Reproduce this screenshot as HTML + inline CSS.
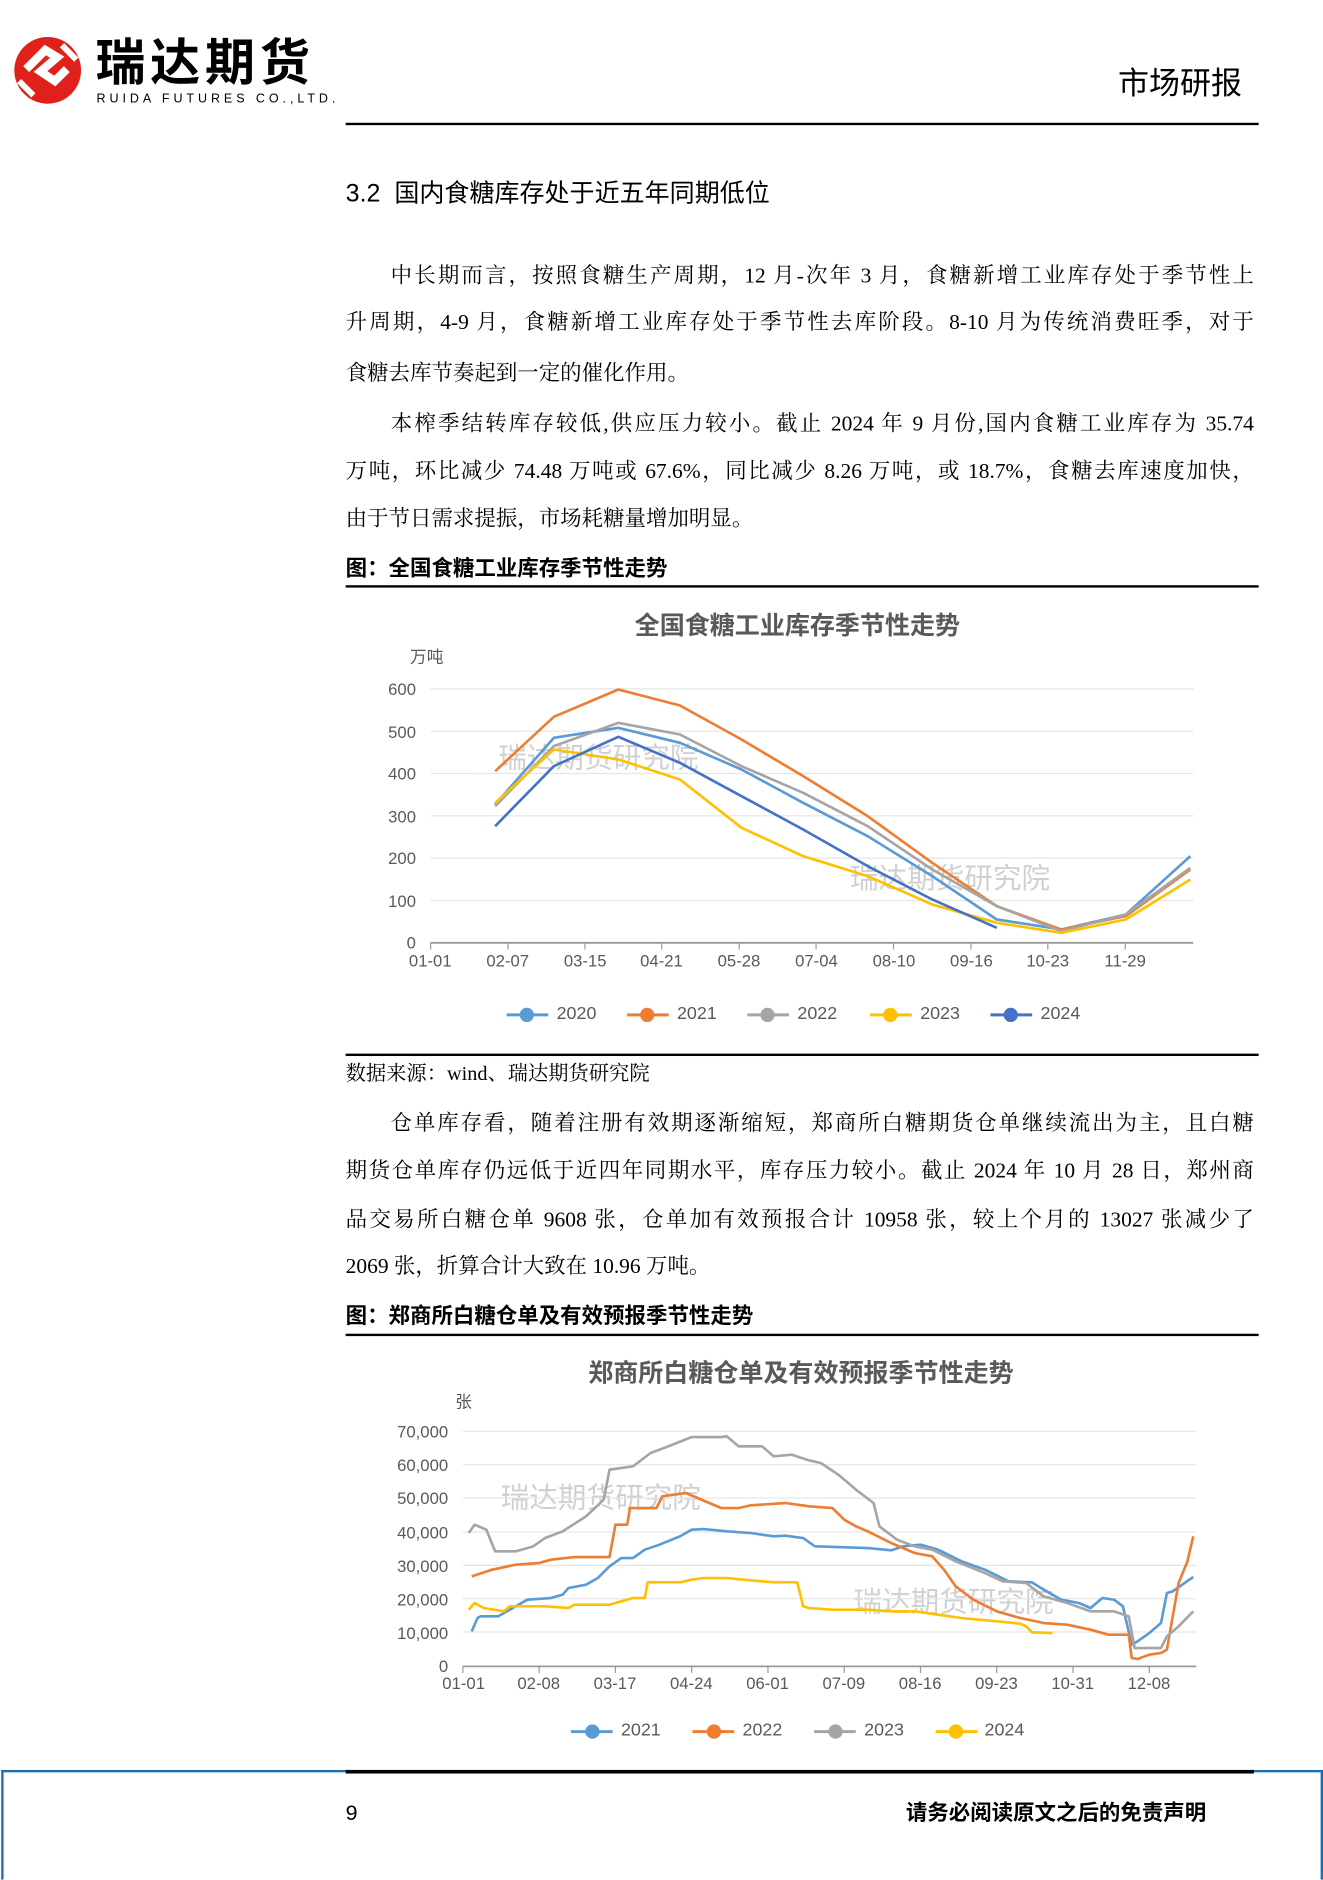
<!DOCTYPE html>
<html><head><meta charset="utf-8">
<style>
html,body{margin:0;padding:0;background:#fff;width:1323px;height:1871px;overflow:hidden;}
#p{position:absolute;left:0;top:0;width:1110px;height:1570px;transform:scale(1.19189);transform-origin:0 0;font-family:"Liberation Serif","Noto Serif CJK SC",serif;color:#000;}
.a{position:absolute;white-space:nowrap;}
.ln{position:absolute;left:290px;width:762px;font-size:18px;line-height:22px;text-align:justify;text-align-last:justify;white-space:nowrap;}
.ln.l{text-align-last:left;}
.s{font-family:"Liberation Sans","Noto Sans CJK SC",sans-serif;}
.tk{position:absolute;font-family:"Liberation Sans","Noto Sans CJK SC",sans-serif;font-size:14px;color:#595959;line-height:16px;}
.r{text-align:right;width:60px;}
.c{text-align:center;width:60px;margin-left:-30px;}
.wm{position:absolute;font-family:"Liberation Sans","Noto Sans CJK SC",sans-serif;font-size:24px;color:rgba(150,150,150,0.45);white-space:nowrap;line-height:26px;}
.ttl{position:absolute;font-family:"Liberation Sans","Noto Sans CJK SC",sans-serif;font-weight:bold;font-size:21px;color:#595959;white-space:nowrap;transform:translateX(-50%);line-height:24px;}
</style></head><body>
<div id="p">
<!-- logo -->
<svg class="a" style="left:8px;top:28px" width="64" height="62" viewBox="0 0 64 62">
 <circle cx="32" cy="31" r="28" fill="#e0211b"/>
 <path d="M14 30 L30 14 L40 20 L26 32 L38 40 L48 30" stroke="#fff" stroke-width="7" fill="none" stroke-linejoin="miter"/>
 <path d="M8 40 L20 52" stroke="#fff" stroke-width="5"/>
 <path d="M44 10 L56 22" stroke="#fff" stroke-width="5"/>
</svg>
<div class="a s" style="left:80px;top:29px;font-size:42px;font-weight:bold;letter-spacing:4px;line-height:48px;">瑞达期货</div>
<div class="a s" style="left:81px;top:77px;font-size:10.5px;letter-spacing:3.3px;line-height:12px;">RUIDA FUTURES CO.,LTD.</div>
<div class="a s" style="left:938px;top:55px;font-size:26px;line-height:30px;">市场研报</div>
<div class="a" style="left:290px;top:103px;width:766px;height:2px;background:#000"></div>

<div class="a s" style="left:290px;top:150px;font-size:21px;line-height:26px;">3.2&nbsp; 国内食糖库存处于近五年同期低位</div>

<div class="ln" style="top:220px">&emsp;&emsp;中长期而言，按照食糖生产周期，12 月-次年 3 月，食糖新增工业库存处于季节性上</div>
<div class="ln" style="top:259px">升周期，4-9 月，食糖新增工业库存处于季节性去库阶段。8-10 月为传统消费旺季，对于</div>
<div class="ln l" style="top:302px">食糖去库节奏起到一定的催化作用。</div>
<div class="ln" style="top:344px">&emsp;&emsp;本榨季结转库存较低,供应压力较小。截止 2024 年 9 月份,国内食糖工业库存为 35.74</div>
<div class="ln" style="top:384px">万吨，环比减少 74.48 万吨或 67.6%，同比减少 8.26 万吨，或 18.7%，食糖去库速度加快，</div>
<div class="ln l" style="top:424px">由于节日需求提振，市场耗糖量增加明显。</div>

<div class="a s" style="left:290px;top:466px;font-size:18px;font-weight:bold;line-height:22px;">图：全国食糖工业库存季节性走势</div>
<div class="a" style="left:290px;top:491px;width:766px;height:2px;background:#000"></div>

<!-- chart 1 -->
<div class="ttl" style="left:669px;top:514px">全国食糖工业库存季节性走势</div>
<div class="tk" style="left:344px;top:543px">万吨</div>
<div class="tk r" style="left:289px;top:570px">600</div>
<div class="tk r" style="left:289px;top:606px">500</div>
<div class="tk r" style="left:289px;top:641px">400</div>
<div class="tk r" style="left:289px;top:677px">300</div>
<div class="tk r" style="left:289px;top:712px">200</div>
<div class="tk r" style="left:289px;top:748px">100</div>
<div class="tk r" style="left:289px;top:783px">0</div>
<div class="tk c" style="left:361px;top:798px">01-01</div>
<div class="tk c" style="left:426px;top:798px">02-07</div>
<div class="tk c" style="left:491px;top:798px">03-15</div>
<div class="tk c" style="left:555px;top:798px">04-21</div>
<div class="tk c" style="left:620px;top:798px">05-28</div>
<div class="tk c" style="left:685px;top:798px">07-04</div>
<div class="tk c" style="left:750px;top:798px">08-10</div>
<div class="tk c" style="left:815px;top:798px">09-16</div>
<div class="tk c" style="left:879px;top:798px">10-23</div>
<div class="tk c" style="left:944px;top:798px">11-29</div>
<div class="wm" style="left:418px;top:624px">瑞达期货研究院</div>
<div class="wm" style="left:713px;top:725px">瑞达期货研究院</div>
<svg class="a" style="left:285.2px;top:503.4px" width="771.8" height="385.9" viewBox="0 0 1568 1380" preserveAspectRatio="none">
 <g stroke="#e6e6e6" stroke-width="1">
  <line x1="155" x2="1455" y1="268" y2="268" vector-effect="non-scaling-stroke"/>
  <line x1="155" x2="1455" y1="395" y2="395" vector-effect="non-scaling-stroke"/>
  <line x1="155" x2="1455" y1="522" y2="522" vector-effect="non-scaling-stroke"/>
  <line x1="155" x2="1455" y1="649" y2="649" vector-effect="non-scaling-stroke"/>
  <line x1="155" x2="1455" y1="776" y2="776" vector-effect="non-scaling-stroke"/>
  <line x1="155" x2="1455" y1="903" y2="903" vector-effect="non-scaling-stroke"/>
 </g>
 <g stroke="#999" fill="none">
  <line x1="155" x2="1455" y1="1030" y2="1030" stroke-width="1.5" vector-effect="non-scaling-stroke"/>
  <path d="M155 1030v20M287 1030v20M418 1030v20M549 1030v20M681 1030v20M812 1030v20M944 1030v20M1076 1030v20M1207 1030v20M1339 1030v20" vector-effect="non-scaling-stroke"/>
 </g>
 <g fill="none" stroke-width="2.2" stroke-linejoin="round">
  <polyline stroke="#5B9BD5" vector-effect="non-scaling-stroke" points="265,615 365,415 475,385 580,430 685,510 790,610 900,710 1010,830 1120,960 1230,990 1340,945 1450,770"/>
  <polyline stroke="#ED7D31" vector-effect="non-scaling-stroke" points="265,515 365,352 475,270 580,318 685,420 790,530 900,650 1010,790 1120,920 1230,990 1340,950 1450,810"/>
  <polyline stroke="#A5A5A5" vector-effect="non-scaling-stroke" points="265,620 365,440 475,370 580,405 685,500 790,580 900,680 1010,810 1120,920 1230,995 1340,945 1450,805"/>
  <polyline stroke="#FFC000" vector-effect="non-scaling-stroke" points="265,610 365,450 475,480 580,540 685,685 790,770 900,830 1010,915 1120,970 1230,1000 1340,960 1450,840"/>
  <polyline stroke="#4472C4" vector-effect="non-scaling-stroke" points="265,680 365,500 475,412 580,490 685,590 790,690 900,800 1010,900 1120,985"/>
 </g>
</svg>
<svg class="a" style="left:0;top:0" width="1110" height="1570">
 <g stroke-width="2.5">
  <line x1="425" x2="460" y1="851.5" y2="851.5" stroke="#5B9BD5"/><circle cx="442" cy="851.5" r="6" fill="#5B9BD5"/>
  <line x1="526" x2="561" y1="851.5" y2="851.5" stroke="#ED7D31"/><circle cx="543" cy="851.5" r="6" fill="#ED7D31"/>
  <line x1="627" x2="662" y1="851.5" y2="851.5" stroke="#A5A5A5"/><circle cx="644" cy="851.5" r="6" fill="#A5A5A5"/>
  <line x1="730" x2="765" y1="851.5" y2="851.5" stroke="#FFC000"/><circle cx="747" cy="851.5" r="6" fill="#FFC000"/>
  <line x1="831" x2="866" y1="851.5" y2="851.5" stroke="#4472C4"/><circle cx="848" cy="851.5" r="6" fill="#4472C4"/>
  <line x1="479" x2="514" y1="1452.8" y2="1452.8" stroke="#5B9BD5"/><circle cx="497" cy="1452.8" r="6" fill="#5B9BD5"/>
  <line x1="581" x2="616" y1="1452.8" y2="1452.8" stroke="#ED7D31"/><circle cx="599" cy="1452.8" r="6" fill="#ED7D31"/>
  <line x1="683" x2="718" y1="1452.8" y2="1452.8" stroke="#A5A5A5"/><circle cx="701" cy="1452.8" r="6" fill="#A5A5A5"/>
  <line x1="785" x2="820" y1="1452.8" y2="1452.8" stroke="#FFC000"/><circle cx="802" cy="1452.8" r="6" fill="#FFC000"/>
 </g>
</svg>
<div class="tk" style="left:467px;top:843px;font-size:15px">2020</div>
<div class="tk" style="left:568px;top:843px;font-size:15px">2021</div>
<div class="tk" style="left:669px;top:843px;font-size:15px">2022</div>
<div class="tk" style="left:772px;top:843px;font-size:15px">2023</div>
<div class="tk" style="left:873px;top:843px;font-size:15px">2024</div>

<div class="a" style="left:290px;top:884px;width:766px;height:2px;background:#000"></div>
<div class="a" style="left:290px;top:890px;font-size:17px;line-height:22px;">数据来源：wind、瑞达期货研究院</div>

<div class="ln" style="top:931px">&emsp;&emsp;仓单库存看，随着注册有效期逐渐缩短，郑商所白糖期货仓单继续流出为主，且白糖</div>
<div class="ln" style="top:971px">期货仓单库存仍远低于近四年同期水平，库存压力较小。截止 2024 年 10 月 28 日，郑州商</div>
<div class="ln" style="top:1012px">品交易所白糖仓单 9608 张，仓单加有效预报合计 10958 张，较上个月的 13027 张减少了</div>
<div class="ln l" style="top:1051px">2069 张，折算合计大致在 10.96 万吨。</div>

<div class="a s" style="left:290px;top:1093px;font-size:18px;font-weight:bold;line-height:22px;">图：郑商所白糖仓单及有效预报季节性走势</div>
<div class="a" style="left:290px;top:1119px;width:766px;height:2px;background:#000"></div>

<!-- chart 2 -->
<div class="ttl" style="left:672px;top:1141px">郑商所白糖仓单及有效预报季节性走势</div>
<div class="tk" style="left:382px;top:1168px">张</div>
<div class="tk r" style="left:316px;top:1193px">70,000</div>
<div class="tk r" style="left:316px;top:1221px">60,000</div>
<div class="tk r" style="left:316px;top:1249px">50,000</div>
<div class="tk r" style="left:316px;top:1278px">40,000</div>
<div class="tk r" style="left:316px;top:1306px">30,000</div>
<div class="tk r" style="left:316px;top:1334px">20,000</div>
<div class="tk r" style="left:316px;top:1362px">10,000</div>
<div class="tk r" style="left:316px;top:1390px">0</div>
<div class="tk c" style="left:389px;top:1404px">01-01</div>
<div class="tk c" style="left:452px;top:1404px">02-08</div>
<div class="tk c" style="left:516px;top:1404px">03-17</div>
<div class="tk c" style="left:580px;top:1404px">04-24</div>
<div class="tk c" style="left:644px;top:1404px">06-01</div>
<div class="tk c" style="left:708px;top:1404px">07-09</div>
<div class="tk c" style="left:772px;top:1404px">08-16</div>
<div class="tk c" style="left:836px;top:1404px">09-23</div>
<div class="tk c" style="left:900px;top:1404px">10-31</div>
<div class="tk c" style="left:964px;top:1404px">12-08</div>
<div class="wm" style="left:420px;top:1245px">瑞达期货研究院</div>
<div class="wm" style="left:716px;top:1332px">瑞达期货研究院</div>
<svg class="a" style="left:285.2px;top:1124.2px" width="771.8" height="335.6" viewBox="0 0 1568 1200" preserveAspectRatio="none">
 <g stroke="#e6e6e6">
  <line x1="210" x2="1460" y1="275" y2="275" vector-effect="non-scaling-stroke"/>
  <line x1="210" x2="1460" y1="375" y2="375" vector-effect="non-scaling-stroke"/>
  <line x1="210" x2="1460" y1="475" y2="475" vector-effect="non-scaling-stroke"/>
  <line x1="210" x2="1460" y1="577" y2="577" vector-effect="non-scaling-stroke"/>
  <line x1="210" x2="1460" y1="677" y2="677" vector-effect="non-scaling-stroke"/>
  <line x1="210" x2="1460" y1="777" y2="777" vector-effect="non-scaling-stroke"/>
  <line x1="210" x2="1460" y1="877" y2="877" vector-effect="non-scaling-stroke"/>
 </g>
 <g stroke="#999" fill="none">
  <line x1="210" x2="1460" y1="980" y2="980" stroke-width="1.5" vector-effect="non-scaling-stroke"/>
  <path d="M210 980v20M340 980v20M470 980v20M600 980v20M730 980v20M860 980v20M990 980v20M1120 980v20M1250 980v20M1380 980v20" vector-effect="non-scaling-stroke"/>
 </g>
 <g fill="none" stroke-width="2.2" stroke-linejoin="round">
  <polyline stroke="#5B9BD5" vector-effect="non-scaling-stroke" points="225,875 235,835 240,830 270,830 300,800 320,780 360,775 380,765 390,745 420,735 440,715 460,680 480,655 500,655 520,630 545,615 580,590 600,570 620,568 660,575 700,580 740,590 760,588 790,595 810,620 850,622 900,625 940,632 960,620 990,615 1020,630 1060,665 1100,690 1140,725 1180,728 1200,750 1230,780 1260,790 1280,805 1300,775 1320,780 1335,800 1350,915 1360,905 1380,880 1400,850 1410,760 1420,755 1440,730 1455,712"/>
  <polyline stroke="#ED7D31" vector-effect="non-scaling-stroke" points="225,710 260,690 300,675 340,670 360,660 400,652 460,652 470,555 490,555 495,505 540,505 550,470 590,460 630,490 650,505 680,505 700,497 760,490 800,500 840,505 860,540 880,560 900,575 940,610 980,640 1010,650 1030,690 1050,740 1080,780 1120,815 1160,835 1200,850 1240,855 1280,870 1310,885 1345,885 1350,955 1360,958 1380,945 1400,940 1410,930 1430,730 1445,665 1455,590"/>
  <polyline stroke="#A5A5A5" vector-effect="non-scaling-stroke" points="220,580 230,555 250,570 265,635 300,635 330,620 350,595 380,575 420,530 450,480 460,390 500,380 530,340 560,320 600,292 650,292 660,290 680,320 720,320 740,350 770,345 800,362 820,370 850,405 880,450 910,490 920,560 950,600 980,620 1010,630 1050,665 1100,700 1130,725 1170,730 1200,770 1240,790 1280,815 1320,815 1345,830 1355,925 1400,925 1410,890 1430,860 1455,815"/>
  <polyline stroke="#FFC000" vector-effect="non-scaling-stroke" points="220,810 230,790 245,805 280,815 290,800 320,800 350,800 390,805 400,795 460,795 500,775 520,775 525,728 580,728 600,720 620,715 660,715 700,722 740,728 780,728 790,800 800,805 840,810 900,810 940,815 980,815 1020,825 1060,835 1120,845 1160,852 1170,860 1180,878 1215,880"/>
 </g>
</svg>
<div class="tk" style="left:521px;top:1444px;font-size:15px">2021</div>
<div class="tk" style="left:623px;top:1444px;font-size:15px">2022</div>
<div class="tk" style="left:725px;top:1444px;font-size:15px">2023</div>
<div class="tk" style="left:826px;top:1444px;font-size:15px">2024</div>

<!-- footer -->
<div class="a" style="left:1px;top:1485px;width:1105px;height:90px;border:2px solid #1f6eb5;border-bottom:none;"></div>
<div class="a" style="left:290px;top:1485px;width:762px;height:3px;background:#000"></div>
<div class="a s" style="left:290px;top:1510px;font-size:18px;line-height:22px;">9</div>
<div class="a s" style="left:760px;top:1510px;font-size:18px;font-weight:bold;line-height:22px;">请务必阅读原文之后的免责声明</div>
</div>
</body></html>
